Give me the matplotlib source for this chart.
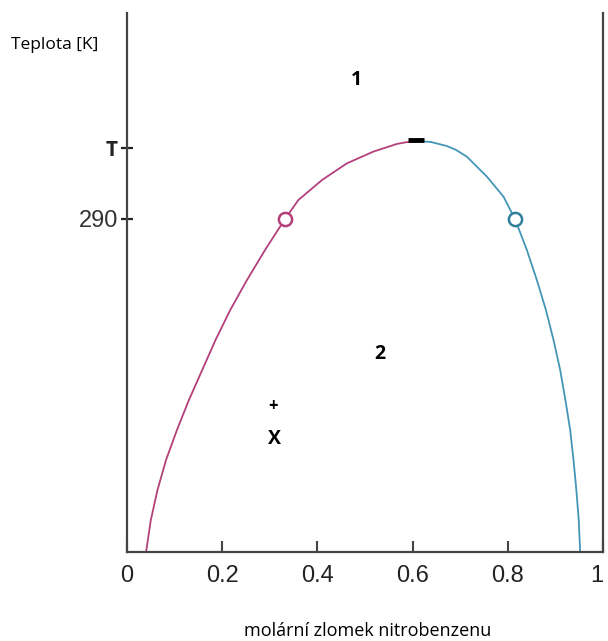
import matplotlib.pyplot as plt

# levá větev (bohatá na hexan) - od dna k maximu
x_left = [0.040, 0.050, 0.064, 0.082, 0.105, 0.130, 0.158, 0.186, 0.217, 0.252, 0.290, 0.332,
          0.360, 0.410, 0.462, 0.517, 0.567, 0.586, 0.607]
t_left = [275.93, 277.28, 278.55, 279.82, 281.09, 282.35, 283.62, 284.89, 286.16, 287.42, 288.69, 290.00,
          290.80, 291.65, 292.35, 292.84, 293.17, 293.24, 293.30]
# pravá větev (bohatá na nitrobenzen) - od maxima dolů
x_right = [0.607, 0.639, 0.672, 0.691, 0.714, 0.756, 0.791, 0.815, 0.840, 0.861, 0.880, 0.896,
           0.910, 0.921, 0.931, 0.938, 0.944, 0.949, 0.952]
t_right = [293.30, 293.25, 293.08, 292.92, 292.63, 291.79, 290.94, 290.00, 288.69, 287.42, 286.16, 284.89,
           283.62, 282.35, 281.09, 279.82, 278.55, 277.28, 275.93]

# body na izotermě 290 K a kritický bod
circ_x = [0.332, 0.815]
circ_t = [290.0, 290.0]
crit_x = [0.607]
crit_t = [293.33]

ytick_pos = [290.0, 293.0]
ytick_lab = ['290', 'T']
xtick_pos = [0, 0.2, 0.4, 0.6, 0.8, 1]
xtick_lab = ['0', '0.2', '0.4', '0.6', '0.8', '1']

fig = plt.figure(figsize=(6.08, 6.41), dpi=100)
ax = fig.add_axes([0.2089, 0.1388, 0.7829, 0.8409])

ax.plot(x_left, t_left, color='#b3407a', lw=1.3, solid_joinstyle='round')
ax.plot(x_right, t_right, color='#4496b6', lw=1.3, solid_joinstyle='round')
ax.plot(circ_x[:1], circ_t[:1], 'o', ms=9.5, mfc='white', mec='#b3407a', mew=1.8)
ax.plot(circ_x[1:], circ_t[1:], 'o', ms=9.5, mfc='white', mec='#2f7f9c', mew=1.8)
ax.plot(crit_x, crit_t, marker='_', ms=12, mew=3.5, color='black', ls='none')

ax.set_xlim(0, 1)
ax.set_ylim(275.93, 298.70)

ax.spines['top'].set_visible(False)
for s in ['left', 'right', 'bottom']:
    ax.spines[s].set_linewidth(1.6)
    ax.spines[s].set_color('#444444')

ax.set_xticks(xtick_pos)
ax.set_xticklabels(xtick_lab, fontsize=17, family='Liberation Sans')
ax.tick_params(axis='x', direction='in', length=8, width=1.5, colors='#444444', pad=9)
for lab in ax.get_xticklabels():
    lab.set_color('#222222')
ax.get_xticklabels()[-1].set_ha('right')  # ať se "1" vejde do obrázku

ax.set_yticks(ytick_pos)
ax.set_yticklabels(ytick_lab)
ax.tick_params(axis='y', direction='inout', length=9, width=1.6, colors='#222222', pad=2)
yl = ax.get_yticklabels()
yl[0].set_fontsize(17)
yl[0].set_family('Liberation Sans')
yl[0].set_color('#333333')
yl[1].set_fontsize(15)
yl[1].set_fontweight('bold')
yl[1].set_family('Open Sans')

fig.text(0.018, 0.930, 'Teplota [K]', fontsize=12.5, family='Open Sans', ha='left', va='center')
fig.text(0.604, 0.016, 'molární zlomek nitrobenzenu', fontsize=13, family='Open Sans', ha='center', va='center')

ax.text(0.481, 295.87, '1', fontsize=14, fontweight='bold', family='Open Sans', ha='center', va='center')
ax.text(0.531, 284.30, '2', fontsize=14, fontweight='bold', family='Open Sans', ha='center', va='center')
ax.text(0.307, 282.10, '+', fontsize=12, fontweight='bold', family='Open Sans', ha='center', va='center')
ax.text(0.309, 280.71, 'X', fontsize=14, fontweight='bold', family='Open Sans', ha='center', va='center')

fig.savefig('out.png', dpi=100, facecolor='white')
